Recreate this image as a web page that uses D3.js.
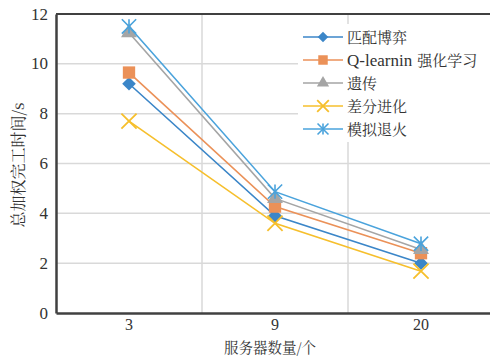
<!DOCTYPE html>
<html><head><meta charset="utf-8">
<script src="https://cdn.jsdelivr.net/npm/d3@7"></script>
</head><body style="margin:0"><svg id="c" width="490" height="357"></svg>
<script>
const categories = ["3", "9", "20"];
const seriesNames = ["匹配博弈", "Q-learnin 强化学习", "遗传", "差分进化", "模拟退火"];
const matchGame = [9.2, 3.9, 2.0];
const qLearning = [9.65, 4.27, 2.4];
const genetic = [11.25, 4.6, 2.55];
const diffEvo = [7.7, 3.6, 1.68];
const annealing = [11.5, 4.87, 2.78];
const yTicks = [0, 2, 4, 6, 8, 10, 12];
const colors = ["#3b86c8", "#eb9158", "#a5a5a5", "#f6bf2c", "#4aa3dc"];
const markers = ["diamond", "square", "triangle", "x", "star"];
const allSeries = [matchGame, qLearning, genetic, diffEvo, annealing];

const svg = d3.select("#c");
const L = 56, R = 494, T = 14, B = 313;
const x = d3.scaleBand().domain(categories).range([L, R]);
const y = d3.scaleLinear().domain([0, 12]).range([B, T]);

function lat(t, size) { return t.style("font-family", '"Times New Roman"').style("font-size", size + "px").style("fill", "#333"); }
function cjk(t, size) { return t.style("font-family", '"Noto Serif CJK SC"').style("font-size", size + "px").style("fill", "#333"); }

svg.append("g").selectAll("line").data(yTicks.filter(d => d > 0 && d < 12)).join("line")
  .attr("x1", L).attr("x2", R).attr("y1", d => y(d)).attr("y2", d => y(d))
  .attr("stroke", "#d9d9d9").attr("stroke-width", 1.5);
svg.append("g").selectAll("line").data(categories.slice(1)).join("line")
  .attr("x1", d => x(d)).attr("x2", d => x(d)).attr("y1", T).attr("y2", B)
  .attr("stroke", "#d9d9d9").attr("stroke-width", 1.5);
svg.append("line").attr("x1", L).attr("x2", R).attr("y1", T).attr("y2", T).attr("stroke", "#404040").attr("stroke-width", 2);

const yAxis = svg.append("g").attr("transform", `translate(${L},0)`)
  .call(d3.axisLeft(y).tickValues(yTicks).tickSize(0).tickFormat(""));
yAxis.select(".domain").attr("stroke", "#404040").attr("stroke-width", 2.5);
const xAxis = svg.append("g").attr("transform", `translate(0,${B})`)
  .call(d3.axisBottom(x).tickSize(0).tickFormat(""));
xAxis.select(".domain").attr("stroke", "#404040").attr("stroke-width", 2.5);

yTicks.forEach(t => {
  lat(svg.append("text").attr("x", L - 8).attr("y", y(t) + 5.5).attr("text-anchor", "end"), 17).text(t);
});
categories.forEach(c => {
  lat(svg.append("text").attr("x", x(c) + x.bandwidth() / 2).attr("y", 330).attr("text-anchor", "middle"), 16).text(c);
});
cjk(svg.append("text").attr("x", 270).attr("y", 353).attr("text-anchor", "middle"), 14.5).text("服务器数量/个");
cjk(svg.append("text").attr("transform", "translate(24,165) rotate(-90)").attr("text-anchor", "middle"), 16).text("总加权完工时间/s");

function drawMarker(g, type, color, s) {
  if (type === "diamond") g.append("path").attr("d", d3.symbol(d3.symbolDiamond2, s * s * 0.7)()).attr("fill", color);
  else if (type === "square") g.append("path").attr("d", d3.symbol(d3.symbolSquare, s * s * 0.9)()).attr("fill", color);
  else if (type === "triangle") g.append("path").attr("d", d3.symbol(d3.symbolTriangle, s * s * 0.65)()).attr("fill", color);
  else if (type === "x") g.append("path").attr("d", d3.symbol(d3.symbolX, s * s * 0.9)()).attr("stroke", color).attr("stroke-width", 1.8).attr("fill", "none");
  else if (type === "star") {
    g.append("path").attr("d", d3.symbol(d3.symbolX, s * s * 0.8)()).attr("stroke", color).attr("stroke-width", 1.6).attr("fill", "none");
    g.append("line").attr("x1", 0).attr("x2", 0).attr("y1", -s * 0.55).attr("y2", s * 0.55).attr("stroke", color).attr("stroke-width", 1.6);
  }
}

const cx = d => x(d) + x.bandwidth() / 2;
const line = d3.line().x((d, i) => cx(categories[i])).y(d => y(d));
allSeries.forEach((vals, k) => {
  const g = svg.append("g");
  g.append("path").datum(vals).attr("d", line).attr("fill", "none")
    .attr("stroke", colors[k]).attr("stroke-width", 1.6);
  vals.forEach((v, i) => {
    const m = g.append("g").attr("transform", `translate(${cx(categories[i])},${y(v)})`);
    drawMarker(m, markers[k], colors[k], 13);
  });
});

svg.append("rect").attr("x", 298).attr("y", 24).attr("width", 192).attr("height", 118).attr("fill", "#fff");
seriesNames.forEach((name, k) => {
  const yy = 37 + k * 23;
  svg.append("line").attr("x1", 303).attr("x2", 343).attr("y1", yy).attr("y2", yy)
    .attr("stroke", colors[k]).attr("stroke-width", 1.6);
  const m = svg.append("g").attr("transform", `translate(323,${yy})`);
  drawMarker(m, markers[k], colors[k], 10);
  const sp = name.indexOf(" ");
  if (sp > 0) {
    const t1 = lat(svg.append("text").attr("x", 347).attr("y", yy + 5.5), 17).text(name.slice(0, sp));
    const w = t1.node().getComputedTextLength();
    cjk(svg.append("text").attr("x", 347 + w + 5).attr("y", yy + 5.5), 15).text(name.slice(sp + 1));
  } else {
    cjk(svg.append("text").attr("x", 347).attr("y", yy + 5.5), 15).text(name);
  }
});
</script></body></html>
